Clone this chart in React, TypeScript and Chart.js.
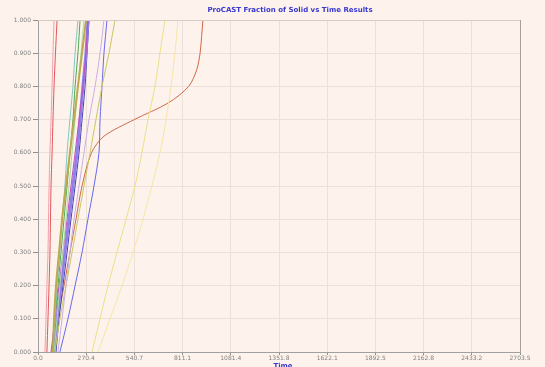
import React, { useEffect, useRef } from "react";
import { Chart, registerables } from "chart.js";

Chart.register(...registerables);

const chartTitle = "ProCAST Fraction of Solid vs Time Results";
const xAxisTitle = "Time";

const fractionLevels = [0, 0.1, 0.2, 0.3, 0.4, 0.5, 0.6, 0.7, 0.8, 0.9, 1.0];
const sCurveLevels = [0, 0.1, 0.2, 0.3, 0.4, 0.5, 0.6, 0.65, 0.7, 0.75, 0.8, 0.85, 0.9, 1.0];

const xTickValues = [0, 270.35, 540.7, 811.05, 1081.4, 1351.75, 1622.1, 1892.45, 2162.8, 2433.15, 2703.5];
const xTickLabels = ["0.0", "270.4", "540.7", "811.1", "1081.4", "1351.8", "1622.1", "1892.5", "2162.8", "2433.2", "2703.5"];

const timesRed = [50, 56, 62, 67, 70, 73, 79, 84, 90, 98, 107];
const timesPink = [39, 45, 50, 56, 59, 62, 67, 73, 79, 84, 90];
const timesGreen = [79, 95, 112, 129, 146, 163, 179, 196, 208, 224, 236];
const timesLightGreen = [90, 107, 123, 140, 157, 174, 191, 208, 224, 241, 258];
const timesTeal = [84, 95, 107, 123, 135, 151, 163, 179, 196, 208, 224];
const timesPurple = [90, 107, 129, 151, 174, 196, 219, 236, 252, 269, 280];
const timesDarkBlue = [101, 118, 140, 163, 185, 208, 230, 247, 264, 275, 286];
const timesMagenta = [73, 95, 118, 140, 163, 185, 208, 230, 252, 269, 280];
const timesBlue = [123, 168, 208, 247, 280, 314, 342, 348, 359, 370, 387];
const timesSCurve = [79, 112, 146, 179, 213, 247, 300, 370, 540, 730, 845, 890, 909, 925];
const timesYellow = [303, 348, 393, 443, 494, 544, 583, 617, 656, 684, 712];
const timesPaleYellow = [337, 404, 471, 533, 589, 639, 684, 718, 746, 768, 785];
const timesOlive = [95, 123, 157, 191, 224, 258, 292, 325, 359, 398, 432];
const timesLavender = [112, 135, 157, 179, 202, 230, 258, 286, 320, 348, 370];
const timesGold = [84, 90, 101, 118, 135, 157, 179, 202, 224, 247, 269];

const curves = [
  { times: timesPaleYellow, levels: fractionLevels, color: "#f6e6a8", width: 1 },
  { times: timesYellow, levels: fractionLevels, color: "#ece08a", width: 1 },
  { times: timesLavender, levels: fractionLevels, color: "#c8b0e8", width: 1 },
  { times: timesOlive, levels: fractionLevels, color: "#c8c860", width: 1 },
  { times: timesGold, levels: fractionLevels, color: "#c0a850", width: 2 },
  { times: timesLightGreen, levels: fractionLevels, color: "#a8dca0", width: 1 },
  { times: timesTeal, levels: fractionLevels, color: "#80c8c0", width: 1 },
  { times: timesGreen, levels: fractionLevels, color: "#50a850", width: 1 },
  { times: timesMagenta, levels: fractionLevels, color: "#c050c0", width: 1 },
  { times: timesPurple, levels: fractionLevels, color: "#9080e8", width: 3 },
  { times: timesDarkBlue, levels: fractionLevels, color: "#4040b0", width: 1 },
  { times: timesBlue, levels: fractionLevels, color: "#6868f0", width: 1 },
  { times: timesPink, levels: fractionLevels, color: "#f0a0b0", width: 1 },
  { times: timesRed, levels: fractionLevels, color: "#e05858", width: 1 },
  { times: timesSCurve, levels: sCurveLevels, color: "#d06848", width: 1 },
];

const bgPlugin = {
  id: "bgPlugin",
  beforeDraw(chart: any) {
    const { ctx, width, height } = chart;
    ctx.save();
    ctx.fillStyle = "#fdf3ec";
    ctx.fillRect(0, 0, width, height);
    ctx.restore();
  },
  afterDraw(chart: any) {
    const { ctx, chartArea } = chart;
    ctx.save();
    ctx.strokeStyle = "#d8ccc4";
    ctx.lineWidth = 1;
    ctx.beginPath();
    ctx.moveTo(chartArea.left, chartArea.top + 0.5);
    ctx.lineTo(chartArea.right, chartArea.top + 0.5);
    ctx.stroke();
    ctx.strokeStyle = "#a8a0a0";
    ctx.beginPath();
    ctx.moveTo(chartArea.right + 0.5, chartArea.top);
    ctx.lineTo(chartArea.right + 0.5, chartArea.bottom);
    ctx.stroke();
    ctx.fillStyle = "#3838d0";
    ctx.font = "bold 7px 'DejaVu Sans', sans-serif";
    ctx.textAlign = "center";
    ctx.textBaseline = "middle";
    ctx.fillText(chartTitle, 290, 10);
    ctx.fillText(xAxisTitle, 283, 366);
    ctx.restore();
  },
};

export default function App() {
  const ref = useRef<HTMLCanvasElement | null>(null);
  useEffect(() => {
    document.body.style.margin = "0";
    const datasets = curves.map((c, i) => ({
      label: "Curve " + (i + 1),
      data: c.times.map((t, j) => ({ x: t, y: c.levels[j] })),
      borderColor: c.color,
      backgroundColor: c.color,
      borderWidth: c.width,
      pointRadius: 0,
      showLine: true,
      tension: 0.3,
      fill: false,
    }));
    const chart = new Chart(ref.current as HTMLCanvasElement, {
      type: "scatter",
      data: { datasets },
      plugins: [bgPlugin],
      options: {
        animation: false,
        responsive: false,
        maintainAspectRatio: false,
        layout: { padding: { top: 20, right: 25, left: 0, bottom: 0 } },
        plugins: { legend: { display: false }, title: { display: false }, tooltip: { enabled: false } },
        scales: {
          x: {
            type: "linear",
            min: 0,
            max: 2703.5,
            afterBuildTicks: (scale: any) => {
              scale.ticks = xTickValues.map((v) => ({ value: v }));
            },
            afterFit: (scale: any) => {
              scale.height = 15;
            },
            ticks: {
              autoSkip: false,
              maxRotation: 0,
              padding: 0,
              color: "#808080",
              font: { size: 6, family: "'DejaVu Sans', sans-serif" },
              callback: (_v: any, i: number) => xTickLabels[i],
            },
            grid: { color: "#ece0d8", tickColor: "#909090", tickLength: 3, drawTicks: true },
            border: { color: "#a0a0a0" },
          },
          y: {
            type: "linear",
            min: 0,
            max: 1,
            afterFit: (scale: any) => {
              scale.width = 38;
            },
            ticks: {
              stepSize: 0.1,
              padding: 2,
              color: "#808080",
              font: { size: 6, family: "'DejaVu Sans', sans-serif" },
              callback: (v: any) => Number(v).toFixed(3),
            },
            grid: { color: "#ece0d8", tickColor: "#909090", tickLength: 5 },
            border: { color: "#a0a0a0" },
          },
        },
      },
    } as any);
    return () => chart.destroy();
  }, []);
  return (
    <div style={{ width: 545, height: 367 }}>
      <canvas ref={ref} width={545} height={367} style={{ display: "block" }} />
    </div>
  );
}
